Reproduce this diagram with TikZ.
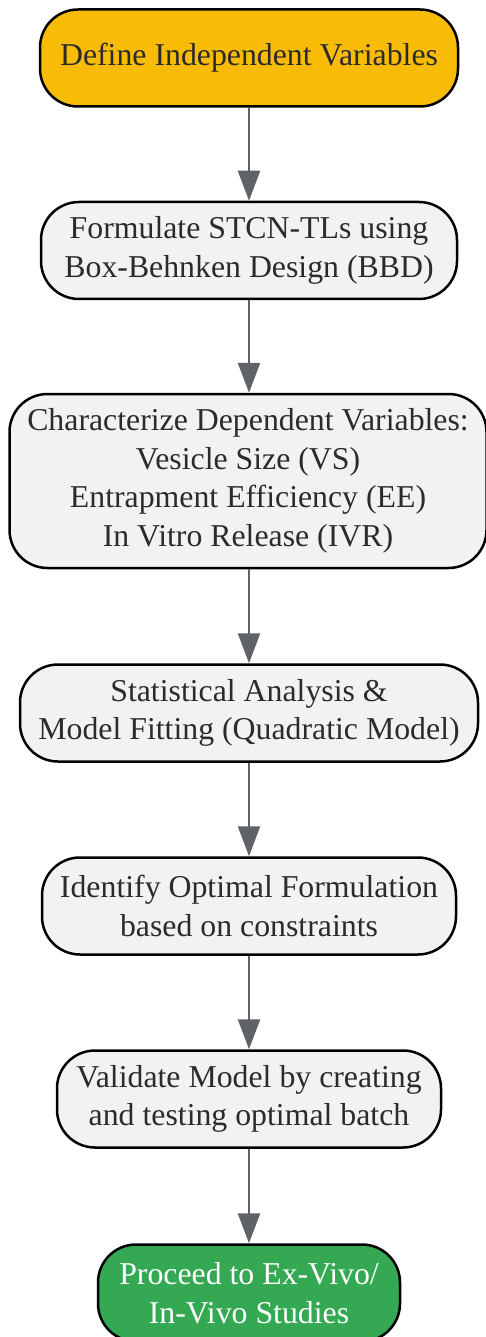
\documentclass[tikz,border=0pt]{standalone}
\usepackage{fontspec}
\setmainfont{Liberation Serif}
\usetikzlibrary{arrows.meta}
\definecolor{startyellow}{HTML}{F9BC06}
\definecolor{boxgray}{HTML}{F1F2F4}
\definecolor{endgreen}{HTML}{34A853}
\definecolor{linkgray}{HTML}{5F6368}
\definecolor{inkgray}{HTML}{2B2B2B}
\begin{document}
\begin{tikzpicture}[x=1pt, y=-1pt,
		stepbox/.style={draw=black, line width=2.5pt, rounded corners=38pt, fill=boxgray,
			align=center, inner sep=0pt, minimum height=97pt, text=inkgray,
			font=\fontsize{31.8}{38.5}\selectfont},
		flow/.style={draw=linkgray, line width=2.5pt, -{Triangle[length=30pt,width=22pt]}}]

			\useasboundingbox (0,0) rectangle (485,1337);

			% steps of the design
			\node[stepbox, fill=startyellow, minimum width=418pt] (define) at (249,58)
				{Define Independent Variables};
			\node[stepbox, minimum width=416pt] (formulate) at (249,250.5)
				{Formulate STCN-TLs using\\Box-Behnken Design (BBD)};
			\node[stepbox, minimum width=477pt, minimum height=174pt] (characterize) at (248,481)
				{Characterize Dependent Variables:\\Vesicle Size (VS)\\Entrapment Efficiency (EE)\\In Vitro Release (IVR)};
			\node[stepbox, minimum width=458pt] (analysis) at (249,713)
				{Statistical Analysis \&\\Model Fitting (Quadratic Model)};
			\node[stepbox, minimum width=414pt] (optimal) at (249,906)
				{Identify Optimal Formulation\\based on constraints};
			\node[stepbox, minimum width=384pt] (validate) at (249,1099)
				{Validate Model by creating\\and testing optimal batch};
			\node[stepbox, fill=endgreen, text=white, minimum width=302pt] (proceed) at (249,1293)
				{Proceed to Ex-Vivo/\\In-Vivo Studies};

			% links
			\draw[flow] (define) -- (formulate);
			\draw[flow] (formulate) -- (characterize.north -| formulate.south);
			\draw[flow] (characterize.south -| formulate.south) -- (analysis);
			\draw[flow] (analysis) -- (optimal);
			\draw[flow] (optimal) -- (validate);
			\draw[flow] (validate) -- (proceed);
\end{tikzpicture}
\end{document}
